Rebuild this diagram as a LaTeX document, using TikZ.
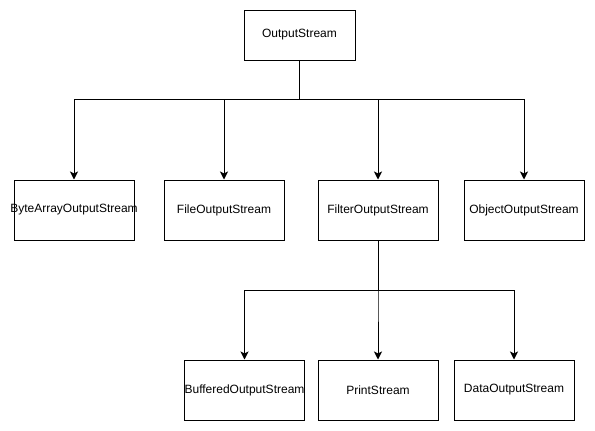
\documentclass[tikz,border=0pt]{standalone}
\usepackage{fontspec}
\setmainfont{Liberation Sans}
\usetikzlibrary{arrows.meta}

\begin{document}
\begin{tikzpicture}[
    x=1pt, y=-1pt,
    font=\fontsize{12}{14}\selectfont,
    classbox/.style={draw=black, fill=white, line width=1pt, minimum width=120pt, minimum height=60pt, inner sep=0pt, align=center},
    rootbox/.style={classbox, minimum width=111pt, minimum height=50pt},
    wire/.style={-{Stealth[length=8pt, width=8pt, inset=2pt]}, line width=1pt, draw=black}
]
    \useasboundingbox (0,0) rectangle (595,431);

    % Classe racine
    \node[rootbox] (out) at (299.5, 35) {OutputStream};

    % Sous-classes directes
    \node[classbox] (bytearr) at (74, 210) {\makebox[0pt]{ByteArrayOutputStream}};
    \node[classbox] (file) at (224, 210) {FileOutputStream};
    \node[classbox] (filter) at (378, 210) {FilterOutputStream};
    \node[classbox] (object) at (524, 210) {ObjectOutputStream};

    % Sous-classes de FilterOutputStream
    \node[classbox] (buffered) at (244.5, 390) {\makebox[0pt]{BufferedOutputStream}};
    \node[classbox] (print) at (378, 390) {PrintStream};
    \node[classbox] (data) at (514, 390) {DataOutputStream};

    % Points de jonction
    \coordinate (bus1) at (299.5, 99.5);
    \coordinate (bus2) at (378, 290.5);

    % Liens
    \draw[wire] (out.south) -- (bus1) -| (bytearr.north);
    \draw[wire] (out.south) -- (bus1) -| (file.north);
    \draw[wire] (out.south) -- (bus1) -| (filter.north);
    \draw[wire] (out.south) -- (bus1) -| (object.north);

    \draw[wire] (filter.south) -- (bus2) -| (buffered.north);
    \draw[wire] (filter.south) -- (bus2) -- (print.north);
    \draw[wire] (filter.south) -- (bus2) -| (data.north);

\end{tikzpicture}
\end{document}
